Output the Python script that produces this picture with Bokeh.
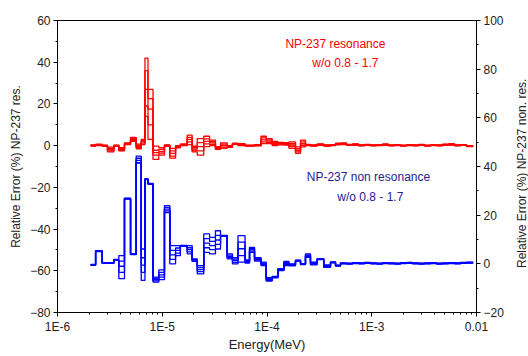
from bokeh.plotting import figure
from bokeh.models import Range1d, LinearAxis, FixedTicker, Label, Div, InlineStyleSheet
from bokeh.layouts import row
from bokeh.embed import file_html
from bokeh.resources import INLINE

# ---------------- data ----------------
# energy bin edges (MeV)
edges = [2.07e-6, 2.31e-6, 2.67e-6, 3.00e-6, 3.45e-6, 3.85e-6, 4.36e-6, 4.98e-6, 5.64e-6, 6.30e-6,
         6.84e-6, 7.31e-6, 8.16e-6, 9.27e-6, 1.05e-5, 1.18e-5, 1.34e-5, 1.49e-5, 1.73e-5, 1.93e-5,
         2.16e-5, 2.49e-5, 2.83e-5, 3.22e-5, 3.60e-5, 4.17e-5, 4.68e-5, 5.29e-5, 6.17e-5, 6.81e-5,
         7.60e-5, 8.77e-5, 9.83e-5, 1.12e-4, 1.27e-4, 1.45e-4, 1.62e-4, 1.87e-4, 2.09e-4, 2.33e-4,
         2.60e-4, 3.01e-4, 3.48e-4, 4.04e-4, 4.51e-4, 5.03e-4, 5.74e-4, 6.55e-4, 7.47e-4, 8.53e-4,
         9.73e-4, 1.11e-3, 1.27e-3, 1.44e-3, 1.65e-3, 1.88e-3, 2.15e-3, 2.45e-3, 2.80e-3, 3.19e-3,
         3.64e-3, 4.15e-3, 4.74e-3, 5.40e-3, 6.17e-3, 7.04e-3, 8.03e-3, 9.30e-3]

# NP-237 resonance, relative error (%), five cases (left axis)
res_1 = [0.3, 0.7, 0.2, -0.7, 0.2, -1, 1.3, 4, 0.7, 3,
         42, 27, -0.2, -1, 0.3, -1.3, 0, 0.8, 5, -0.3,
         3.4, 4.5, 2.6, -0.5, 1.3, 0, 1.2, 1, 0.2, 0.2,
         0.5, 4.5, 3.4, 2, 1.5, 1.4, 1.8, -0.6, 2.6, 0.6,
         0.3, 0.8, 0.3, 0.4, 1.2, 1.3, 0.6, 0.8, 0.3, 0.6,
         0.3, 0.5, 0.8, 0.3, 0.4, 0.2, 0.5, 0.3, 0.6, 0.2,
         0.4, 0.3, 0.7, 0.9, 0.3, 0.5, 0]
res_2 = [0.2, 0.5, 0.1, -1.3, 0.1, -1.4, 1.1, 3.5, 0.1, 2.4,
         36, 22.5, -2.2, -1.8, 0.2, -2.5, -0.3, 0.5, 4, -1,
         1.4, 3.2, 2, -0.8, 0.7, -0.2, 1, 0.8, 0.1, 0.1,
         0.3, 3.7, 2.8, 1.5, 1.2, 1.1, 1, -1.4, 1.8, 0.4,
         0.2, 0.6, 0.2, 0.3, 1, 1.1, 0.5, 0.7, 0.2, 0.5,
         0.2, 0.4, 0.6, 0.2, 0.3, 0.1, 0.4, 0.2, 0.5, 0.1,
         0.3, 0.2, 0.6, 0.7, 0.2, 0.4, -0.1]
res_3 = [0, 0.3, 0, -1.9, 0, -1.8, 0.9, 3, -0.4, 1.8,
         27, 17.5, -3.3, -2.8, 0, -3.7, -0.5, 0.3, 3, -1.7,
         -0.5, 2, 1.3, -1.1, 0, -0.4, 0.9, 0.5, 0, 0,
         0.2, 2.8, 2.2, 1, 1, 0.8, 0.3, -2.2, 1, 0.3,
         0, 0.4, 0, 0.2, 0.8, 0.9, 0.4, 0.5, 0.1, 0.3,
         0.1, 0.3, 0.5, 0.1, 0.2, 0, 0.3, 0.1, 0.4, 0,
         0.2, 0.1, 0.4, 0.6, 0.1, 0.3, -0.2]
res_4 = [-0.1, 0.1, -0.2, -2.5, -0.2, -2.2, 0.7, 2.5, -1, 1.2,
         19, 10, -4.5, -3.6, -0.2, -5, -0.8, 0.1, 1.8, -2.4,
         -2.5, 0.8, 0.6, -1.5, -0.7, -0.6, 0.8, 0.2, -0.1, -0.1,
         0, 1.8, 1.6, 0.5, 0.7, 0.5, -0.5, -3, 0.2, 0.1,
         -0.1, 0.2, -0.1, 0.1, 0.6, 0.7, 0.2, 0.4, 0, 0.2,
         0, 0.2, 0.3, 0, 0.1, -0.1, 0.2, 0, 0.2, -0.1,
         0.1, 0, 0.3, 0.4, 0, 0.2, -0.3]
res_5 = [-0.2, 0, -0.3, -3, -0.3, -2.5, 0.5, 2, -1.5, 0.5,
         14, 3, -6.6, -4.5, -0.3, -6, -1, 0, 0.5, -3,
         -4.5, -0.5, 0, -1.8, -1.3, -0.8, 0.6, 0, -0.2, -0.2,
         -0.1, 1, 1, 0, 0.4, 0.3, -1.3, -3.7, -0.6, 0,
         -0.2, 0.1, -0.2, 0, 0.4, 0.5, 0.1, 0.2, -0.1, 0.1,
         -0.1, 0, 0.2, -0.1, 0, -0.2, 0, -0.1, 0.1, -0.2,
         0, -0.1, 0.2, 0.3, -0.1, 0.1, -0.4]

# NP-237 non resonance, relative error (%), five cases (right axis)
non_1 = [-0.2, 5.4, 0.4, 0.4, 1.8, 3.4, 27, 4.2, 44.3, 6.1,
         35, 33.1, -5.5, -2.5, 23.9, 7.5, 7.5, 7.6, 7.5, 2,
         -0.7, 12.3, 10.9, 13.6, 11.7, 4.1, 2.5, 11.6, 1.6, 6.8,
         2.5, 0.7, -5.7, -5.2, -2, 1, 0, 1.5, 0.1, 4.1,
         0.7, 2.1, -0.4, 0.8, -0.5, 0.4, 0.3, 0.5, 0.4, 0.6,
         0.4, 0.3, 0.5, 0.4, 0.3, 0.5, 0.6, 0.4, 0.3, 0.4,
         0.5, 0.3, 0.4, 0.5, 0.4, 0.6, 0.7]
non_2 = [-0.3, 5.3, 0.35, 0.35, 1.7, 1.1, 26.9, 4.1, 43.4, 2.5,
         34.9, 33, -6, -3.5, 23.2, 5.5, 6.5, 7.5, 6.6, 1.7,
         -1.5, 10.4, 9.2, 11.7, 11.6, 3.6, 1.9, 8.9, 1.3, 6.3,
         2.2, 0.3, -6, -5.3, -2.2, 0.6, -0.2, 1.4, 0, 3.7,
         0.5, 2, -0.7, 0.7, -0.6, 0.3, 0.2, 0.4, 0.3, 0.5,
         0.3, 0.2, 0.4, 0.3, 0.2, 0.4, 0.5, 0.3, 0.2, 0.3,
         0.4, 0.2, 0.3, 0.4, 0.3, 0.5, 0.6]
non_3 = [-0.4, 5.2, 0.3, 0.3, 1.6, -1, 26.8, 4, 42.5, -0.5,
         34.8, 32.9, -6.5, -4.5, 22.5, 3.7, 5.5, 7.4, 5.8, 1.5,
         -2.4, 8.5, 7.5, 9.8, 11.5, 3, 1.3, 6.2, 1, 5.8,
         1.8, 0, -6.4, -5.5, -2.4, 0.2, -0.4, 1.3, -0.1, 3.4,
         0.2, 1.9, -0.9, 0.6, -0.7, 0.2, 0.1, 0.3, 0.2, 0.4,
         0.2, 0.1, 0.3, 0.2, 0.1, 0.3, 0.4, 0.2, 0.1, 0.2,
         0.3, 0.1, 0.2, 0.3, 0.2, 0.4, 0.5]
non_4 = [-0.5, 5.1, 0.25, 0.25, 1.5, -3.5, 26.7, 3.9, 41.6, -3.5,
         34.7, 32.8, -7, -5.5, 21.8, 1.8, 4.4, 7.3, 4.9, 1.2,
         -3.2, 6.6, 5.8, 8, 11.4, 2.5, 0.6, 3.4, 0.6, 5.2,
         1.5, -0.3, -6.8, -5.6, -2.6, -0.3, -0.6, 1.2, -0.2, 3,
         -0.1, 1.8, -1.2, 0.5, -0.8, 0.1, 0, 0.2, 0.1, 0.3,
         0.1, 0, 0.2, 0.1, 0, 0.2, 0.3, 0.1, 0, 0.1,
         0.2, 0, 0.1, 0.2, 0.1, 0.3, 0.4]
non_5 = [-0.6, 5, 0.2, 0.2, 1.4, -6.1, 26.6, 3.8, 41.4, -6.8,
         34.6, 32.7, -7.5, -6.5, 21.1, 0, 3.4, 7.2, 4.1, 1,
         -4.1, 4.7, 4.1, 6.1, 11.3, 2, 0, 0.7, 0.3, 4.7,
         1.1, -0.7, -7.1, -5.8, -2.8, -0.7, -0.8, 1.1, -0.3, 2.7,
         -0.4, 1.7, -1.4, 0.4, -0.9, 0, -0.1, 0.1, 0, 0.2,
         0, -0.1, 0.1, 0, -0.1, 0.1, 0.2, 0, -0.1, 0,
         0.1, -0.1, 0, 0.1, 0, 0.2, 0.3]

x_ticks = [1e-6, 1e-5, 1e-4, 1e-3, 1e-2]
x_tick_labels = ["1E-6", "1E-5", "1E-4", "1E-3", "0.01"]
left_ticks = [-80, -60, -40, -20, 0, 20, 40, 60]
right_ticks = [-20, 0, 20, 40, 60, 80, 100]
right_title = "Relative Error (%) NP-237 non. res."

RED = "#FF0000"
BLUE = "#0000FF"
NAVY = "#22228F"
FONT = "Liberation Sans"

# ---------------- figure ----------------
p = figure(width=507, height=356, x_axis_type="log",
           x_range=Range1d(1e-6, 1e-2), y_range=Range1d(-80, 60),
           output_backend="svg", toolbar_location=None,
           min_border_left=57, min_border_top=20, min_border_right=31, min_border_bottom=44)
p.extra_y_ranges = {"right": Range1d(-20, 100)}
p.xgrid.visible = False
p.ygrid.visible = False
p.outline_line_color = "black"
p.outline_line_width = 1
p.outline_line_alpha = 1
p.background_fill_color = "white"
p.border_fill_color = "white"


def style_axis(ax):
    ax.axis_line_color = "black"
    ax.major_tick_line_color = "black"
    ax.minor_tick_line_color = "black"
    ax.major_tick_in = 0
    ax.major_tick_out = 4
    ax.minor_tick_in = 0
    ax.minor_tick_out = 2
    ax.major_label_text_font = FONT
    ax.major_label_text_font_size = "12px"
    ax.major_label_text_color = "#222222"
    ax.major_label_standoff = 3
    ax.axis_label_text_font = FONT
    ax.axis_label_text_font_size = "12px"
    ax.axis_label_text_font_style = "normal"
    ax.axis_label_text_color = "#222222"


xa = p.xaxis[0]
minor_x = [k * d for d in x_ticks[:-1] for k in range(2, 10)]
xa.ticker = FixedTicker(ticks=x_ticks, minor_ticks=minor_x)
xa.major_label_overrides = dict(zip(x_ticks, x_tick_labels))
xa.axis_label = "Energy(MeV)"
style_axis(xa)
xa.major_label_standoff = 3
xa.axis_label_standoff = 0
xa.axis_label_text_font_size = "13px"

ya = p.yaxis[0]
ya.ticker = FixedTicker(ticks=left_ticks, minor_ticks=[t + 10 for t in left_ticks[:-1]])
ya.axis_label = "Relative Error (%) NP-237 res."
style_axis(ya)
ya.axis_label_standoff = 4

ra = LinearAxis(y_range_name="right",
                ticker=FixedTicker(ticks=right_ticks, minor_ticks=[t + 10 for t in right_ticks[:-1]]))
style_axis(ra)
p.add_layout(ra, "right")

for s in [res_1, res_2, res_3, res_4, res_5]:
    p.step(x=edges, y=s + [s[-1]], mode="after", line_color=RED, line_width=1.3)
for s in [non_1, non_2, non_3, non_4, non_5]:
    p.step(x=edges, y=s + [s[-1]], mode="after", line_color=BLUE, line_width=1.3,
           y_range_name="right")


def add_text(txt, x, y, color, size="12px"):
    p.add_layout(Label(x=x, y=y, text=txt, text_color=color, text_font=FONT,
                       text_font_size=size, text_align="center", text_baseline="middle"))


add_text("NP-237 resonance", 4.5e-4, 48.5, RED)
add_text("w/o 0.8 - 1.7", 5.6e-4, 39.4, RED)
add_text("NP-237 non resonance", 9.3e-4, -15.1, NAVY)
add_text("w/o 0.8 - 1.7", 9.7e-4, -24.6, NAVY)

# right-hand axis title, reading bottom to top like the left one
css = ("div { writing-mode: vertical-rl; transform: rotate(180deg); "
       "height: 346px; width: 21px; padding-top: 10px; margin: 0; "
       "text-align: center; font-family: 'Liberation Sans', Arial, sans-serif; "
       "font-size: 12px; color: #222222; line-height: 21px; white-space: nowrap; "
       "display: block !important; overflow: visible; }")
title_div = Div(text=right_title, width=21, height=356,
                stylesheets=[InlineStyleSheet(css=css)])

layout = row(p, title_div)
open("out.html", "w").write(file_html(layout, INLINE))
